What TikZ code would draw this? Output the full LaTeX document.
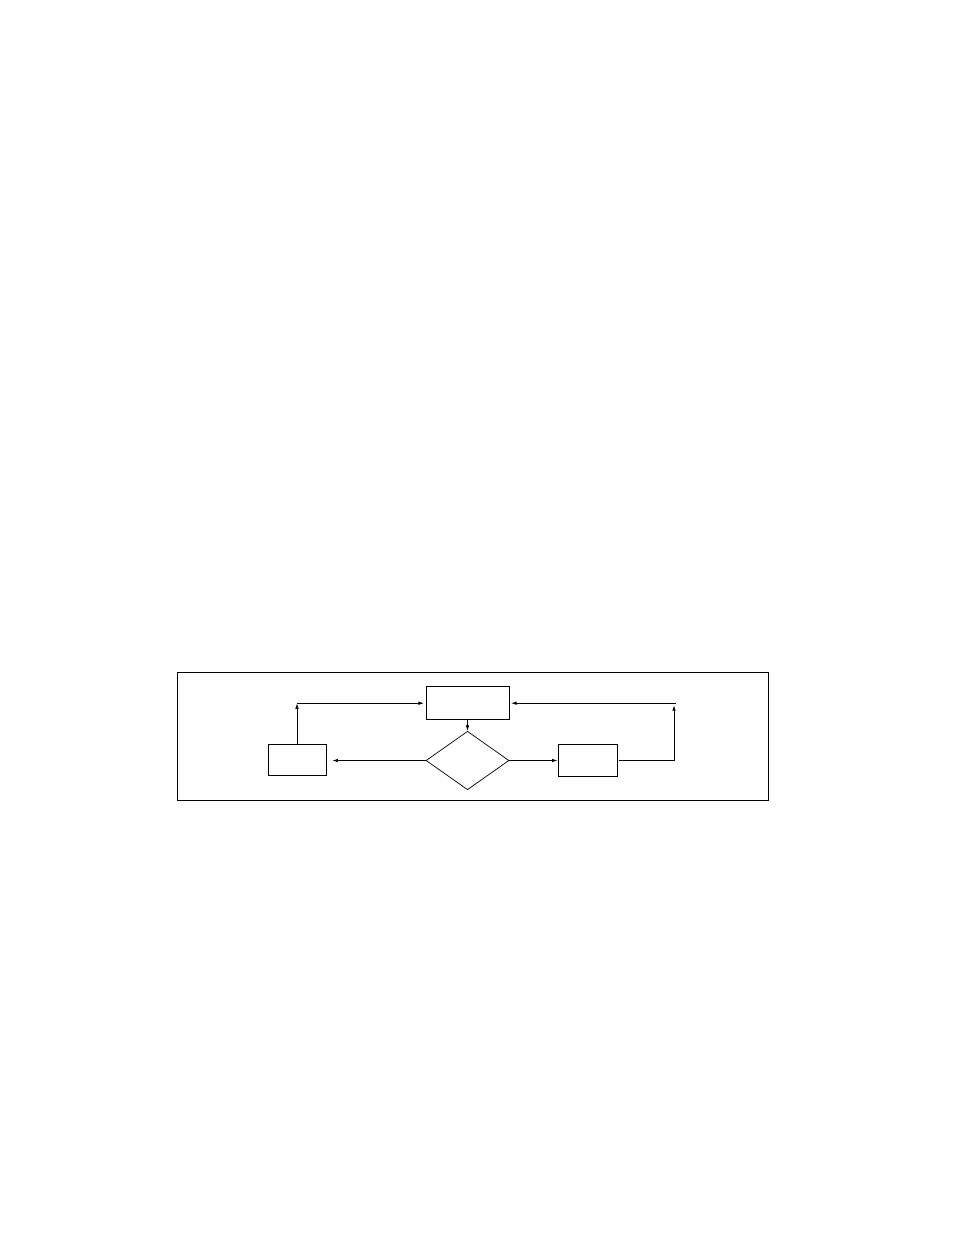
\documentclass[tikz,border=0pt]{standalone}
\usetikzlibrary{shapes.geometric,arrows.meta}
\begin{document}
\begin{tikzpicture}[x=0.6414pt,y=-0.6414pt,
  boxstyle/.style={draw,line width=0.55pt,inner sep=0pt,rectangle},
  decstyle/.style={draw,line width=0.45pt,inner sep=0pt,diamond},
  arr/.style={line width=0.55pt,-{Latex[length=3.6pt,width=2.3pt]}}]
\useasboundingbox (0,0) rectangle (954,1235);
\node[draw,line width=0.55pt,inner sep=0pt,minimum width=379.1pt,minimum height=82.1pt] (frame) at (472.5,736) {};
\node[boxstyle,minimum width=53.24pt,minimum height=20.85pt] (tb) at (467.5,702.75) {};
\node[decstyle,minimum width=53.24pt,minimum height=37.5pt] (d) at (467.5,760.5) {};
\node[boxstyle,minimum width=37.2pt,minimum height=19.9pt] (lb) at (297,760) {};
\node[boxstyle,minimum width=37.8pt,minimum height=20.5pt] (rb) at (587.5,760.5) {};
\coordinate (cl) at (297,703.2);
\coordinate (cr) at (674,703.2);
\draw[arr] (tb.south) -- (d.north);
\draw[arr] (d.west) -- ([xshift=3.8pt]lb.east |- d.west);
\draw[arr] (d.east) -- (rb.west);
\draw[arr] (lb.north) -- (cl);
\draw[arr] (cl) -- ([xshift=-1pt]tb.west |- cl);
\draw[arr] ([xshift=1pt]rb.east) -| ([yshift=-1.2pt]cr);
\draw[arr] ([xshift=1.2pt]cr) -- ([xshift=1pt]tb.east |- cr);
\end{tikzpicture}
\end{document}
